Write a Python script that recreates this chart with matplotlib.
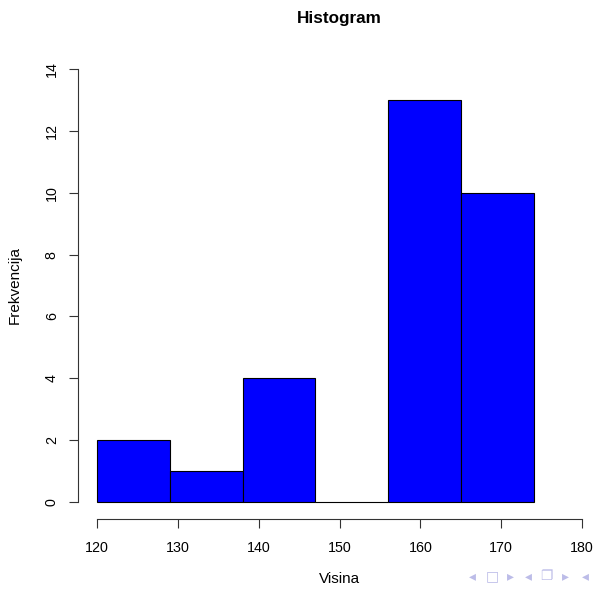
import matplotlib
matplotlib.use("Agg")
import matplotlib.pyplot as plt

# histogram bins (Visina) and counts (Frekvencija)
bin_edges = [120, 129, 138, 147, 156, 165, 174]
counts = [2, 1, 4, 0, 13, 10]
xticks = [120, 130, 140, 150, 160, 170, 180]
yticks = [0, 2, 4, 6, 8, 10, 12, 14]

plt.rcParams["font.family"] = ["Liberation Sans", "DejaVu Sans"]

fig = plt.figure(figsize=(5.98, 5.91), dpi=100)
W, H = 598.0, 591.0
# R-style plot region: 4% padding around xlim=c(120,180), ylim=c(0,14)
left_px, right_px, top_px, bot_px = 77.6, 601.4, 51.7, 519.3
ax = fig.add_axes([left_px / W, 1 - bot_px / H, (right_px - left_px) / W, (bot_px - top_px) / H])

widths = [b - a for a, b in zip(bin_edges[:-1], bin_edges[1:])]
ax.bar(bin_edges[:-1], counts, width=widths, align="edge",
       color="#0000ff", edgecolor="black", linewidth=0.8)

ax.set_xlim(117.6, 182.4)
ax.set_ylim(-0.56, 14.56)
ax.set_xticks(xticks)
ax.set_yticks(yticks)
ax.set_yticklabels([str(v) for v in yticks], rotation=90, va="center")

for s in ["top", "right"]:
    ax.spines[s].set_visible(False)
ax.spines["left"].set_bounds(0, 14)
ax.spines["bottom"].set_bounds(120, 180)
for s in ["left", "bottom"]:
    ax.spines[s].set_linewidth(0.8)
    ax.spines[s].set_color("#333333")

ax.tick_params(axis="both", direction="out", length=6.5, width=0.8,
               colors="#333333", labelcolor="black", labelsize=10.3)
ax.tick_params(axis="x", pad=9)
ax.tick_params(axis="y", pad=7)

ax.set_title("Histogram", fontsize=12.3, fontweight="bold", pad=21)
ax.set_xlabel("Visina", fontsize=11, va="center")
ax.xaxis.set_label_coords(0.5, -(579 - bot_px) / (bot_px - top_px))
ax.set_ylabel("Frekvencija", fontsize=11, va="center")
ax.yaxis.set_label_coords((15 - left_px) / (right_px - left_px), 0.5)

# beamer navigation symbols
nav = [("◂", 472), ("□", 492), ("▸", 510), ("◂", 528), ("❐", 546), ("▸", 565), ("◂", 585)]
for ch, xp in nav:
    fig.text(xp / W, 1 - 576 / H, ch, ha="center", va="center", fontsize=10,
             color="#bcbce8", family=["DejaVu Sans"])

fig.savefig("out.png", dpi=100)
